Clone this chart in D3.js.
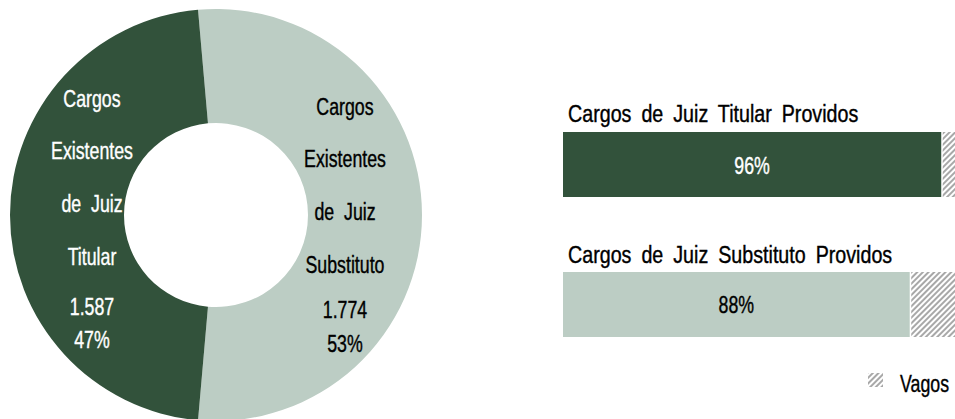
<!DOCTYPE html>
<html>
<head>
<meta charset="utf-8">
<script src="https://cdn.jsdelivr.net/npm/d3@7/dist/d3.min.js"></script>
<style>
  body { margin: 0; background: #fff; }
  svg { font-family: "Liberation Sans", Arial, sans-serif; }
</style>
</head>
<body>
<svg id="chart" width="955" height="419"></svg>
<script>
// donut data
var donut_labels = [["Cargos", "Existentes", "de  Juiz", "Titular"], ["Cargos", "Existentes", "de  Juiz", "Substituto"]];
var donut_values = [1587, 1774];
var donut_value_text = ["1.587", "1.774"];
var donut_pct_text = ["47%", "53%"];

// bar data
var bar_titles = ["Cargos de Juiz Titular Providos", "Cargos de Juiz Substituto Providos"];
var bar_filled = [96, 88];
var legend_label = "Vagos";

var dark = "#32523b";
var light = "#bccdc4";
var squeeze = 0.74; // narrow the font to look like a condensed face

var svg = d3.select("#chart");

// narrow text helper
function add_text(x, y, str, opts) {
  opts = opts || {};
  var color = opts.color || "#000";
  var sx = opts.squeeze || squeeze;
  var t = svg.append("g").attr("transform", "translate(" + x + "," + y + ") scale(" + sx + ",1)")
    .append("text").attr("x", 0).attr("y", 0)
    .attr("font-size", opts.size || 24)
    .attr("text-anchor", opts.anchor || "start")
    .attr("fill", color)
    .attr("stroke", color).attr("stroke-width", 0.4)
    .style("white-space", "pre")
    .text(str);
  if (opts.wordSpacing) t.attr("word-spacing", opts.wordSpacing);
  return t;
}

// hatch pattern
var defs = svg.append("defs");
var pat = defs.append("pattern").attr("id", "hatch")
  .attr("patternUnits", "userSpaceOnUse").attr("width", 4).attr("height", 4)
  .attr("patternTransform", "rotate(45)");
pat.append("rect").attr("width", 4).attr("height", 4).attr("fill", "#fff");
pat.append("rect").attr("width", 2).attr("height", 4).attr("fill", "#a8a8a8");

// ---- donut ----
var cx = 216, cy = 215;
var outer = 206, inner = 92;
var total = d3.sum(donut_values);
var lightFrac = donut_values[1] / total;
// light slice (substituto) centered on the right, dark one on the left
var pie = d3.pie().sort(null).value(function(d) { return d.v; })
  .startAngle(Math.PI / 2 - lightFrac * Math.PI)
  .endAngle(Math.PI / 2 - lightFrac * Math.PI + 2 * Math.PI);
var slices = [
  { v: donut_values[1], color: light },
  { v: donut_values[0], color: dark }
];
var arc = d3.arc().innerRadius(inner).outerRadius(outer);
var g = svg.append("g").attr("transform", "translate(" + cx + "," + cy + ")");
g.selectAll("path").data(pie(slices)).enter().append("path")
  .attr("d", arc).attr("fill", function(d) { return d.data.color; });

var labelPos = [
  { x: 92, ys: [107, 159, 212, 265, 315, 348], color: "#fff" },
  { x: 345, ys: [115, 167, 220, 273, 318, 352], color: "#000" }
];
for (var i = 0; i < 2; i++) {
  var lp = labelPos[i];
  var lines = donut_labels[i].concat([donut_value_text[i], donut_pct_text[i]]);
  for (var j = 0; j < lines.length; j++) {
    add_text(lp.x, lp.ys[j], lines[j], { anchor: "middle", color: lp.color });
  }
}

// ---- bars ----
var x = d3.scaleLinear().domain([0, 100]).range([563, 957]);
var barTop = [132, 272];
var titleY = [122, 263];
var pctY = [174, 313];
var barH = 65;
for (var k = 0; k < bar_filled.length; k++) {
  add_text(568, titleY[k], bar_titles[k], { wordSpacing: 5.5, squeeze: 0.82 });
  svg.append("rect").attr("x", x(0)).attr("y", barTop[k])
    .attr("width", x(bar_filled[k]) - x(0)).attr("height", barH)
    .attr("fill", k === 0 ? dark : light);
  svg.append("rect").attr("x", x(bar_filled[k]) + 1.5).attr("y", barTop[k])
    .attr("width", x(100) - x(bar_filled[k]) - 1.5).attr("height", barH)
    .attr("fill", "url(#hatch)");
  add_text((x(0) + x(bar_filled[k])) / 2, pctY[k], bar_filled[k] + "%",
    { anchor: "middle", color: k === 0 ? "#fff" : "#000" });
}

// legend
svg.append("rect").attr("x", 868).attr("y", 373).attr("width", 15).attr("height", 14).attr("fill", "url(#hatch)");
add_text(900, 392, legend_label);
</script>
</body>
</html>
